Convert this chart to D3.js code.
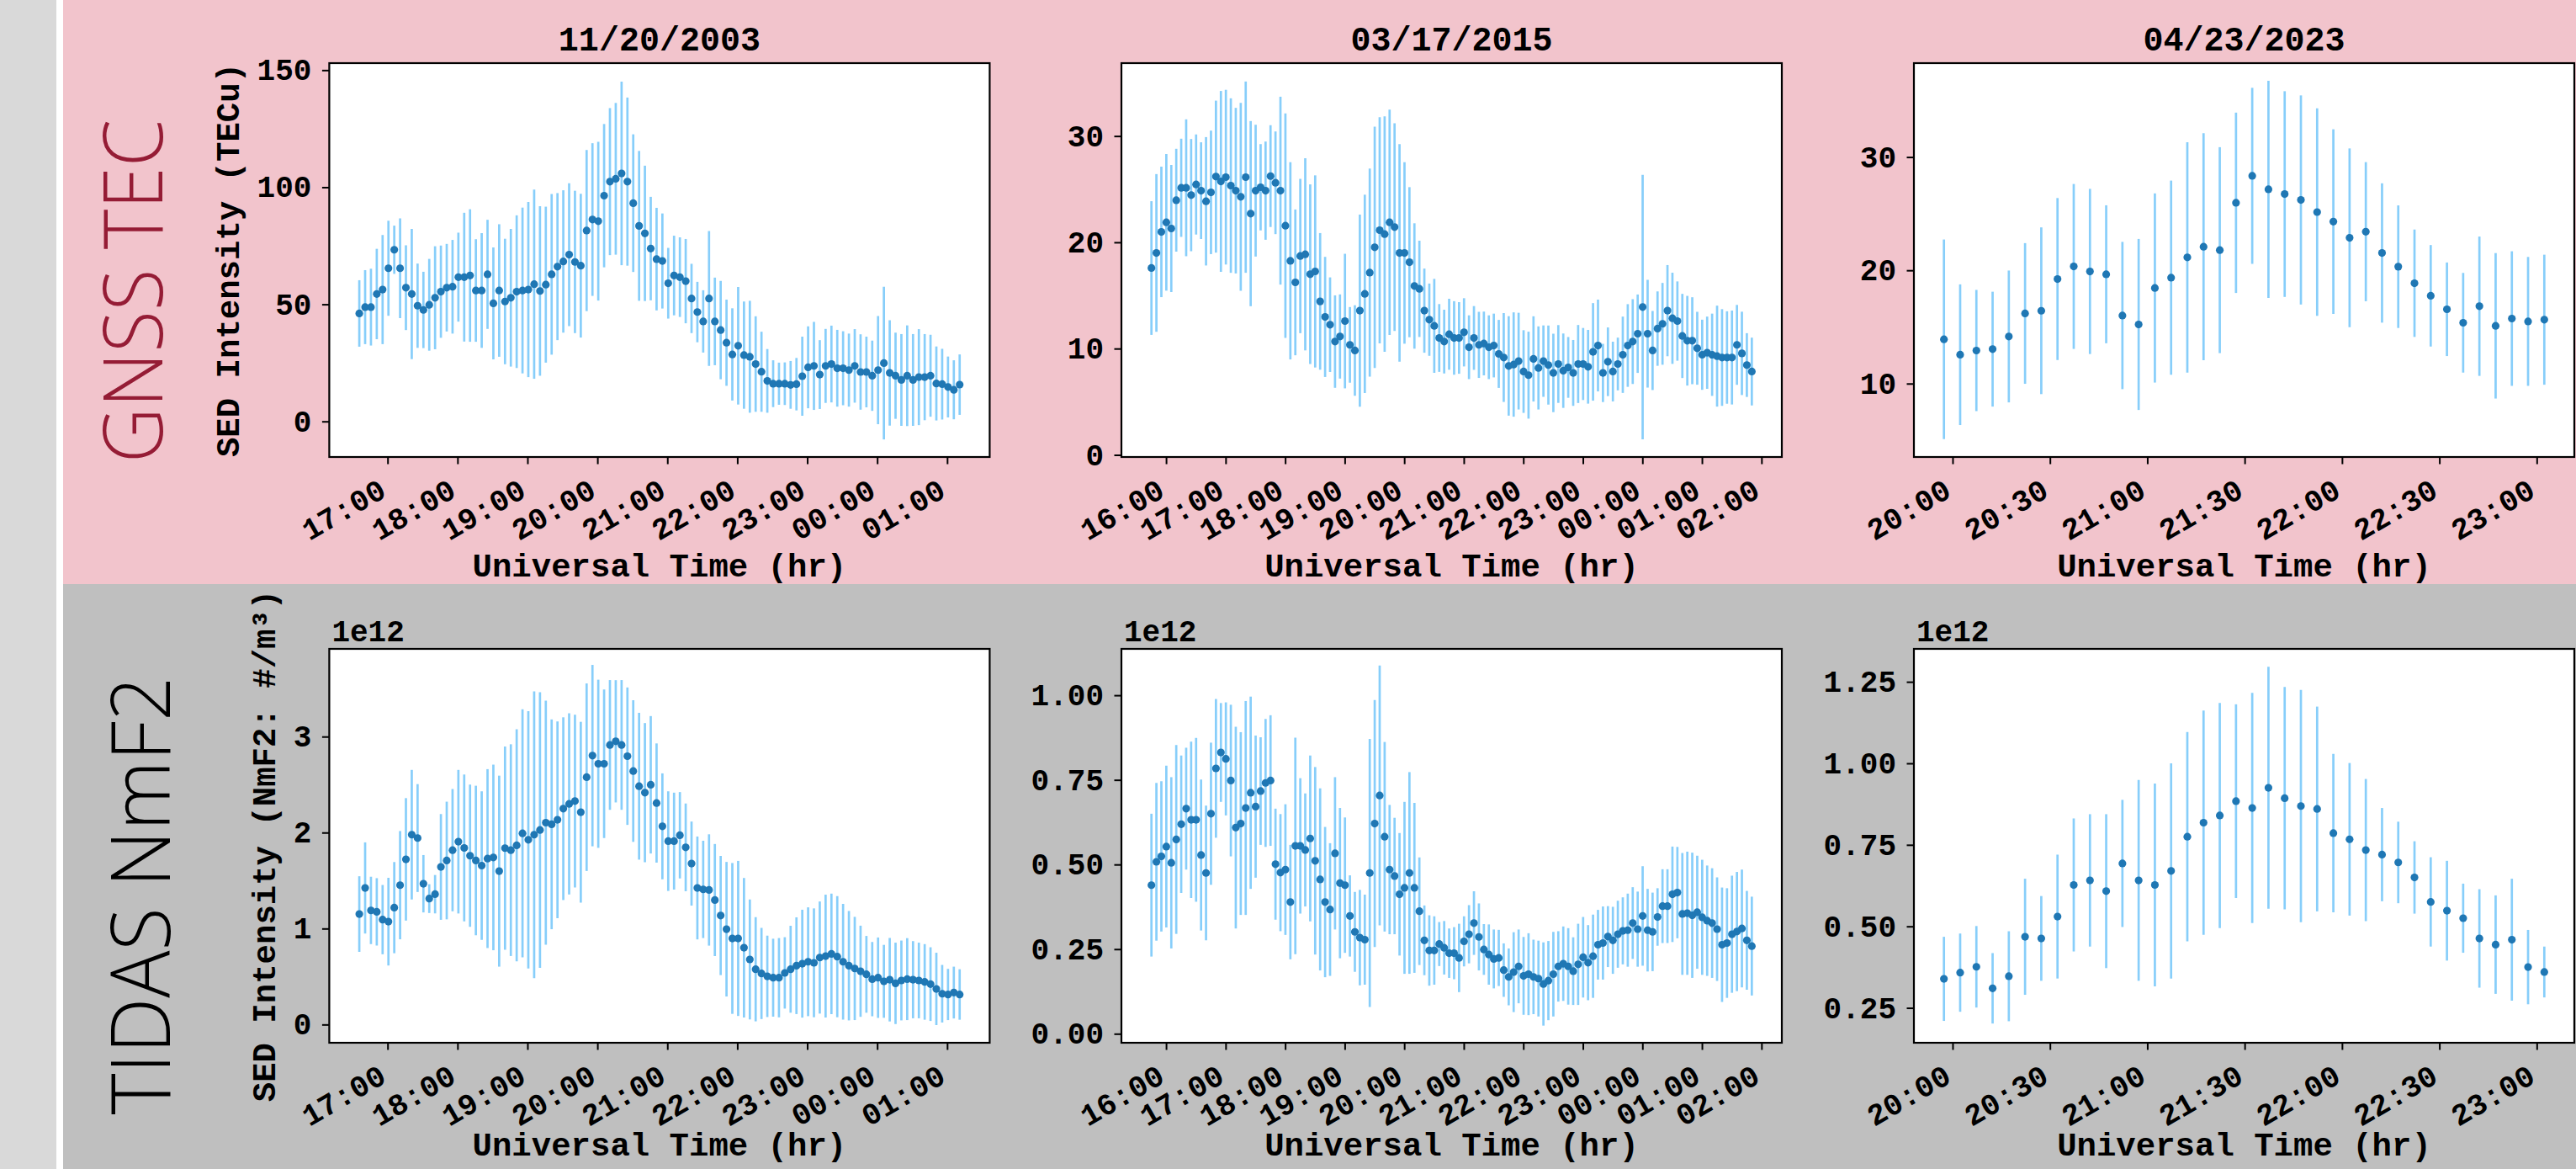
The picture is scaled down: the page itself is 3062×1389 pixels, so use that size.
<!DOCTYPE html>
<html>
<head>
<meta charset="utf-8">
<script src="https://cdn.jsdelivr.net/npm/d3@7"></script>
<style>
  body { margin: 0; }
  svg { display: block; }
</style>
</head>
<body>
<svg id="fig"></svg>
<script>
// ---- data (5 minute cadence, error = +/- half bar) ----
const titles = ['11/20/2003', '03/17/2015', '04/23/2023']
const starts = ['2003-11-20T16:35:45Z', '2015-03-17T15:45:15Z', '2023-04-23T19:57:20Z']
const stepMinutes = 5

// GNSS TEC (TECu)
const tec2003 = [46.1,48.8,48.8,54.4,56.3,65.4,73.3,65.4,57.1,54.4,
  49.4,47.6,49.8,52.8,55.4,57.1,57.5,61.6,61.6,62.3,
  55.9,55.9,62.8,50.4,55.9,51.2,52.8,55.4,55.9,56.3,
  58.6,55.7,58.4,62.8,66.1,68.3,71.2,68.1,66.5,81.5,
  86.2,85.5,96.4,102.4,103.6,105.9,102.4,93.2,83.5,80.3,
  73.8,69.3,68.5,59.0,62.3,61.6,59.9,52.5,46.7,42.7,
  52.5,42.7,39.0,33.6,28.6,32.3,28.3,27.6,24.5,21.2,
  17.3,16.1,16.1,16.1,15.6,15.9,19.3,23.1,23.7,20.0,
  23.7,24.5,22.7,22.7,21.9,23.7,21.1,21.1,19.5,21.9,
  24.9,20.7,19.5,17.7,19.5,17.7,18.9,18.9,19.5,16.2,
  15.9,14.7,13.5,15.7]
const tec2003Err = [14.2,15.8,16.4,19.3,23.3,20.3,10.3,21.3,18.1,27.8,
  18.0,16.3,19.6,22.0,19.7,18.7,20.0,19.0,27.5,28.3,
  21.9,24.5,23.3,23.9,28.3,26.8,29.4,32.6,35.4,37.4,
  40.4,36.2,33.3,34.3,31.4,30.4,30.5,30.4,30.7,34.4,
  32.6,33.9,30.6,31.4,32.4,39.2,35.9,29.4,32.0,28.9,
  22.1,21.9,20.3,15.1,17.0,17.0,18.0,14.8,12.9,13.3,
  28.8,18.7,21.0,18.4,19.7,25.1,22.9,23.9,20.4,17.1,
  13.6,10.0,9.0,9.1,10.2,11.2,16.9,17.5,18.8,14.7,
  15.8,16.4,16.4,15.8,15.6,15.7,16.1,15.1,15.0,23.1,
  32.6,22.5,18.4,19.6,21.5,19.6,20.5,18.4,17.5,15.8,
  15.1,13.0,12.6,12.9]

const tec2015 = [17.58,19.0,20.98,21.88,21.3,23.96,25.13,25.13,24.44,25.44,
  24.86,23.86,24.7,26.18,25.73,26.13,25.34,24.86,24.28,26.13,
  22.7,24.86,25.18,24.86,26.23,25.6,24.86,21.56,18.26,16.23,
  18.71,18.87,17.0,17.26,14.44,12.98,12.25,10.66,11.14,12.59,
  10.35,9.82,13.57,15.15,17.15,19.53,21.14,20.77,21.88,21.43,
  19.0,19.0,18.13,15.89,15.62,13.57,12.72,12.14,11.0,10.66,
  11.35,11.0,11.0,11.53,10.13,11.0,10.35,10.48,10.13,10.29,
  9.5,9.16,8.37,8.5,8.82,7.84,7.5,9.03,8.18,8.82,
  8.45,7.71,8.55,7.92,8.23,7.71,8.55,8.55,8.29,9.69,
  10.29,7.71,8.76,7.84,8.55,9.42,10.29,10.66,11.4,13.91,
  11.4,9.82,11.88,12.33,13.57,12.85,12.59,11.19,10.74,10.74,
  10.03,9.42,9.61,9.42,9.29,9.16,9.16,9.16,10.35,9.55,
  8.45,7.84]
const tec2015Err = [6.29,7.42,6.14,6.43,5.98,4.84,4.62,6.44,5.28,4.71,
  4.55,6.04,5.81,7.15,8.51,8.22,8.21,7.79,8.84,9.0,
  8.71,6.2,4.06,4.62,4.79,4.83,8.84,10.56,9.28,6.86,
  7.26,9.04,8.45,9.04,6.43,5.65,4.45,4.35,3.96,6.33,
  3.56,4.26,9.04,9.33,9.79,11.35,10.64,11.08,10.6,9.77,
  10.23,8.54,7.06,5.9,4.53,3.96,3.4,4.42,3.19,3.0,
  3.34,3.46,3.37,3.21,3.0,3.0,3.11,3.0,3.0,3.0,
  3.2,4.18,4.68,4.91,4.55,3.89,4.09,4.01,3.91,3.36,
  3.72,3.69,3.66,3.5,2.86,3.1,3.67,3.39,3.47,4.59,
  4.32,2.74,3.23,2.81,2.48,3.59,3.89,3.99,3.69,12.44,
  5.07,3.72,3.5,3.85,4.29,4.29,3.73,3.96,4.22,4.09,
  3.43,3.3,3.4,3.87,4.75,4.55,4.35,4.42,3.76,3.92,
  3.0,3.19]

const tec2023 = [13.91,12.55,12.92,13.04,14.16,16.19,16.43,19.23,20.34,19.9,
  19.65,16.01,15.22,18.44,19.35,21.14,22.08,21.78,25.96,28.34,
  27.15,26.73,26.21,25.14,24.3,22.87,23.41,21.53,20.32,18.86,
  17.75,16.56,15.37,16.83,15.1,15.74,15.49,15.64]
const tec2023Err = [8.81,6.21,5.35,5.07,5.82,6.21,7.36,7.15,7.28,7.29,
  6.09,6.5,7.55,8.35,8.57,10.17,10.02,9.09,7.96,7.77,
  9.58,9.08,9.23,9.16,8.15,7.89,6.14,6.15,5.41,4.74,
  4.48,4.13,4.4,6.15,6.42,5.94,5.69,5.74]

// TIDAS NmF2 (units of 1e12 #/m^3)
const nmf2003 = [1.151,1.423,1.189,1.174,1.093,1.072,1.218,1.452,1.721,1.978,
  1.943,1.467,1.312,1.358,1.642,1.709,1.817,1.905,1.840,1.759,
  1.709,1.656,1.729,1.741,1.598,1.838,1.817,1.867,1.992,1.925,
  1.978,2.027,2.103,2.086,2.133,2.249,2.299,2.328,2.212,2.577,
  2.802,2.717,2.717,2.913,2.951,2.913,2.796,2.641,2.483,2.416,
  2.498,2.308,2.065,1.911,1.911,1.972,1.846,1.677,1.423,1.408,
  1.402,1.297,1.136,0.993,0.897,0.897,0.800,0.678,0.576,0.532,
  0.502,0.488,0.488,0.538,0.576,0.613,0.634,0.654,0.643,0.698,
  0.713,0.736,0.707,0.654,0.613,0.584,0.555,0.523,0.473,0.488,
  0.450,0.467,0.429,0.459,0.473,0.467,0.459,0.444,0.421,0.371,
  0.321,0.313,0.333,0.313]
const nmf2003Err = [0.394,0.475,0.351,0.351,0.361,0.457,0.475,0.564,0.638,0.675,
  0.562,0.299,0.15,0.2,0.551,0.613,0.637,0.748,0.765,0.741,
  0.779,0.774,0.932,0.967,0.995,1.059,1.103,1.209,1.293,1.341,
  1.494,1.436,1.271,1.093,1.025,0.952,0.944,0.900,0.942,0.977,
  0.945,0.876,0.774,0.676,0.637,0.676,0.716,0.738,0.765,0.725,
  0.716,0.621,0.552,0.519,0.505,0.450,0.457,0.438,0.536,0.507,
  0.580,0.584,0.621,0.701,0.786,0.808,0.727,0.625,0.543,0.475,
  0.424,0.406,0.413,0.372,0.453,0.504,0.562,0.567,0.567,0.584,
  0.640,0.628,0.631,0.603,0.570,0.538,0.475,0.400,0.387,0.419,
  0.380,0.435,0.424,0.416,0.427,0.402,0.394,0.394,0.384,0.377,
  0.300,0.267,0.270,0.263]

const nmf2015 = [0.439,0.508,0.524,0.553,0.505,0.574,0.619,0.665,0.632,0.632,
  0.528,0.475,0.650,0.784,0.831,0.812,0.748,0.609,0.621,0.667,
  0.712,0.671,0.717,0.741,0.748,0.501,0.476,0.485,0.389,0.555,
  0.555,0.543,0.577,0.511,0.456,0.389,0.367,0.533,0.445,0.439,
  0.348,0.301,0.284,0.278,0.475,0.621,0.704,0.582,0.485,0.466,
  0.412,0.431,0.475,0.431,0.362,0.276,0.246,0.246,0.265,0.254,
  0.238,0.238,0.224,0.273,0.294,0.327,0.286,0.249,0.234,0.221,
  0.224,0.188,0.168,0.182,0.199,0.171,0.176,0.168,0.163,0.147,
  0.157,0.176,0.199,0.207,0.199,0.185,0.205,0.226,0.21,0.229,
  0.263,0.268,0.287,0.276,0.294,0.304,0.306,0.327,0.309,0.348,
  0.306,0.301,0.345,0.377,0.377,0.412,0.417,0.354,0.356,0.350,
  0.359,0.344,0.334,0.327,0.309,0.263,0.268,0.294,0.302,0.311,
  0.276,0.259]
const nmf2015Err = [0.211,0.233,0.222,0.239,0.253,0.279,0.203,0.18,0.231,0.242,
  0.223,0.199,0.21,0.205,0.146,0.167,0.224,0.298,0.27,0.316,
  0.284,0.21,0.159,0.189,0.193,0.164,0.173,0.193,0.169,0.32,
  0.2,0.167,0.245,0.277,0.269,0.222,0.196,0.225,0.222,0.2,
  0.12,0.118,0.141,0.133,0.396,0.365,0.384,0.28,0.191,0.172,
  0.181,0.254,0.298,0.251,0.159,0.103,0.104,0.101,0.065,0.079,
  0.073,0.077,0.101,0.074,0.086,0.094,0.099,0.075,0.089,0.087,
  0.083,0.079,0.084,0.118,0.109,0.115,0.121,0.11,0.112,0.123,
  0.117,0.125,0.104,0.11,0.113,0.1,0.12,0.119,0.111,0.123,
  0.103,0.108,0.09,0.099,0.099,0.099,0.108,0.106,0.111,0.147,
  0.122,0.116,0.085,0.109,0.109,0.141,0.135,0.18,0.182,0.185,
  0.167,0.17,0.163,0.162,0.153,0.169,0.162,0.173,0.176,0.174,
  0.146,0.146]

const nmf2023 = [0.339,0.358,0.376,0.310,0.347,0.468,0.463,0.530,0.627,0.641,
  0.608,0.693,0.641,0.627,0.670,0.775,0.818,0.840,0.884,0.863,
  0.925,0.893,0.869,0.860,0.786,0.767,0.734,0.720,0.696,0.650,
  0.575,0.548,0.525,0.463,0.444,0.459,0.375,0.360]
const nmf2023Err = [0.129,0.12,0.125,0.108,0.138,0.178,0.13,0.19,0.204,0.203,
  0.236,0.195,0.308,0.311,0.33,0.321,0.344,0.345,0.297,0.353,
  0.371,0.341,0.356,0.314,0.243,0.234,0.218,0.143,0.125,0.111,
  0.137,0.153,0.106,0.151,0.151,0.187,0.114,0.078]

// axis limits and ticks as shown
const yLimits = [[-15.2, 153], [-0.2, 36.86], [3.52, 38.29], [-0.19, 3.914], [-0.0266, 1.137], [0.143, 1.351]]
const yTicks = [[0, 50, 100, 150], [0, 10, 20, 30], [10, 20, 30], [0, 1, 2, 3], [0, 0.25, 0.5, 0.75, 1.0], [0.25, 0.5, 0.75, 1.0, 1.25]]
const rowNames = ['GNSS TEC', 'TIDAS NmF2']
const yLabels = ['SED Intensity (TECu)', 'SED Intensity (NmF2: #/m³)']
const xLabel = 'Universal Time (hr)'

// ---- layout ----
const W = 3062, H = 1389
const colX = [391.4, 1333, 2275]
const rowY = [75, 771]
const xLabelGap = [142, 134]
const boxW = 785, boxH = 468
const mono = 'Liberation Mono, Courier New, monospace'

const svg = d3.select('#fig').attr('width', W).attr('height', H)

svg.append('rect').attr('width', W).attr('height', H).attr('fill', '#d9d9d9')
svg.append('rect').attr('x', 67).attr('width', 8).attr('height', H).attr('fill', '#ffffff')
svg.append('rect').attr('x', 75).attr('width', W - 75).attr('height', 694).attr('fill', '#f2c4cc')
svg.append('rect').attr('x', 75).attr('y', 694).attr('width', W - 75).attr('height', H - 694).attr('fill', '#bfbfbf')

// big row labels
const rowLab = [
  { x: 193, y: 346, len: 408, fill: '#951c35' },
  { x: 202, y: 1064, len: 521, fill: '#000000' },
]
rowLab.forEach((r, i) => {
  svg.append('text')
    .attr('transform', 'translate(' + r.x + ',' + r.y + ') rotate(-90)')
    .attr('text-anchor', 'middle')
    .attr('font-family', 'Open Sans, Lato, sans-serif')
    .attr('font-weight', 300)
    .attr('font-size', 98)
    .attr('textLength', r.len)
    .attr('lengthAdjust', 'spacingAndGlyphs')
    .attr('fill', r.fill)
    .text(rowNames[i])
})

const panels = [
  { row: 0, col: 0, v: tec2003, e: tec2003Err, fmt: d3.format('d'), every: d3.utcHour.every(1) },
  { row: 0, col: 1, v: tec2015, e: tec2015Err, fmt: d3.format('d'), every: d3.utcHour.every(1) },
  { row: 0, col: 2, v: tec2023, e: tec2023Err, fmt: d3.format('d'), every: d3.utcMinute.every(30) },
  { row: 1, col: 0, v: nmf2003, e: nmf2003Err, fmt: d3.format('d'), every: d3.utcHour.every(1) },
  { row: 1, col: 1, v: nmf2015, e: nmf2015Err, fmt: d3.format('.2f'), every: d3.utcHour.every(1) },
  { row: 1, col: 2, v: nmf2023, e: nmf2023Err, fmt: d3.format('.2f'), every: d3.utcMinute.every(30) },
]

panels.forEach((p, k) => {
  const t0 = new Date(starts[p.col])
  const data = p.v.map((v, i) => ({
    t: new Date(t0.getTime() + i * stepMinutes * 60000),
    v: v,
    e: p.e[i],
  }))

  // 5% margins on x like matplotlib autoscale
  const [ta, tb] = d3.extent(data, (d) => d.t)
  const pad = (tb - ta) * 0.05
  const x = d3.scaleUtc().domain([new Date(+ta - pad), new Date(+tb + pad)]).range([0, boxW])
  const y = d3.scaleLinear().domain(yLimits[k]).range([boxH, 0])

  const g = svg.append('g').attr('transform', 'translate(' + colX[p.col] + ',' + rowY[p.row] + ')')

  g.append('rect').attr('width', boxW).attr('height', boxH).attr('fill', '#ffffff')

  // error bars
  g.selectAll('.err')
    .data(data)
    .enter()
    .append('line')
    .attr('x1', (d) => x(d.t))
    .attr('x2', (d) => x(d.t))
    .attr('y1', (d) => y(d.v - d.e))
    .attr('y2', (d) => y(d.v + d.e))
    .attr('stroke', '#87cefa')
    .attr('stroke-width', 2.7)

  // mean points
  g.selectAll('.pt')
    .data(data)
    .enter()
    .append('circle')
    .attr('cx', (d) => x(d.t))
    .attr('cy', (d) => y(d.v))
    .attr('r', 4.6)
    .attr('fill', '#1f77b4')

  g.append('rect').attr('width', boxW).attr('height', boxH)
    .attr('fill', 'none').attr('stroke', '#000').attr('stroke-width', 2.2)

  // x axis
  const xa = g.append('g')
    .attr('transform', 'translate(0,' + boxH + ')')
    .call(d3.axisBottom(x).ticks(p.every).tickFormat(d3.utcFormat('%H:%M')).tickSize(8.5).tickSizeOuter(0))
  xa.select('.domain').remove()
  xa.selectAll('.tick line').attr('stroke-width', 2)
  xa.selectAll('text')
    .attr('x', 0).attr('y', 0).attr('dy', null)
    .attr('text-anchor', 'end')
    .attr('transform', 'translate(0,46) rotate(-30)')
    .attr('font-family', mono).attr('font-size', 36).attr('font-weight', 'bold')
    .attr('fill', '#000')

  // y axis
  const ya = g.append('g')
    .call(d3.axisLeft(y).tickValues(yTicks[k]).tickFormat(p.fmt).tickSize(8.5).tickPadding(12.5).tickSizeOuter(0))
  ya.select('.domain').remove()
  ya.selectAll('.tick line').attr('stroke-width', 2)
  ya.selectAll('text')
    .attr('font-family', mono).attr('font-size', 36).attr('font-weight', 'bold')
    .attr('fill', '#000')

  // x label
  g.append('text')
    .attr('x', boxW / 2).attr('y', boxH + xLabelGap[p.row])
    .attr('text-anchor', 'middle')
    .attr('font-family', mono).attr('font-size', 39).attr('font-weight', 'bold')
    .text(xLabel)

  if (p.row === 0) {
    g.append('text')
      .attr('x', boxW / 2).attr('y', -15)
      .attr('text-anchor', 'middle')
      .attr('font-family', mono).attr('font-size', 40).attr('font-weight', 'bold')
      .text(titles[p.col])
  } else {
    g.append('text')
      .attr('x', 3).attr('y', -9)
      .attr('font-family', mono).attr('font-size', 36).attr('font-weight', 'bold')
      .text('1e12')
  }

  if (p.col === 0) {
    let minX = 0
    ya.selectAll('text').each(function () {
      minX = Math.min(minX, this.getBBox().x)
    })
    const lx = minX - 9.7 - 0.3 * 39
    g.append('text')
      .attr('transform', 'translate(' + lx + ',' + boxH / 2 + ') rotate(-90)')
      .attr('text-anchor', 'middle')
      .attr('font-family', mono).attr('font-size', 39).attr('font-weight', 'bold')
      .text(yLabels[p.row])
  }
})
</script>
</body>
</html>
